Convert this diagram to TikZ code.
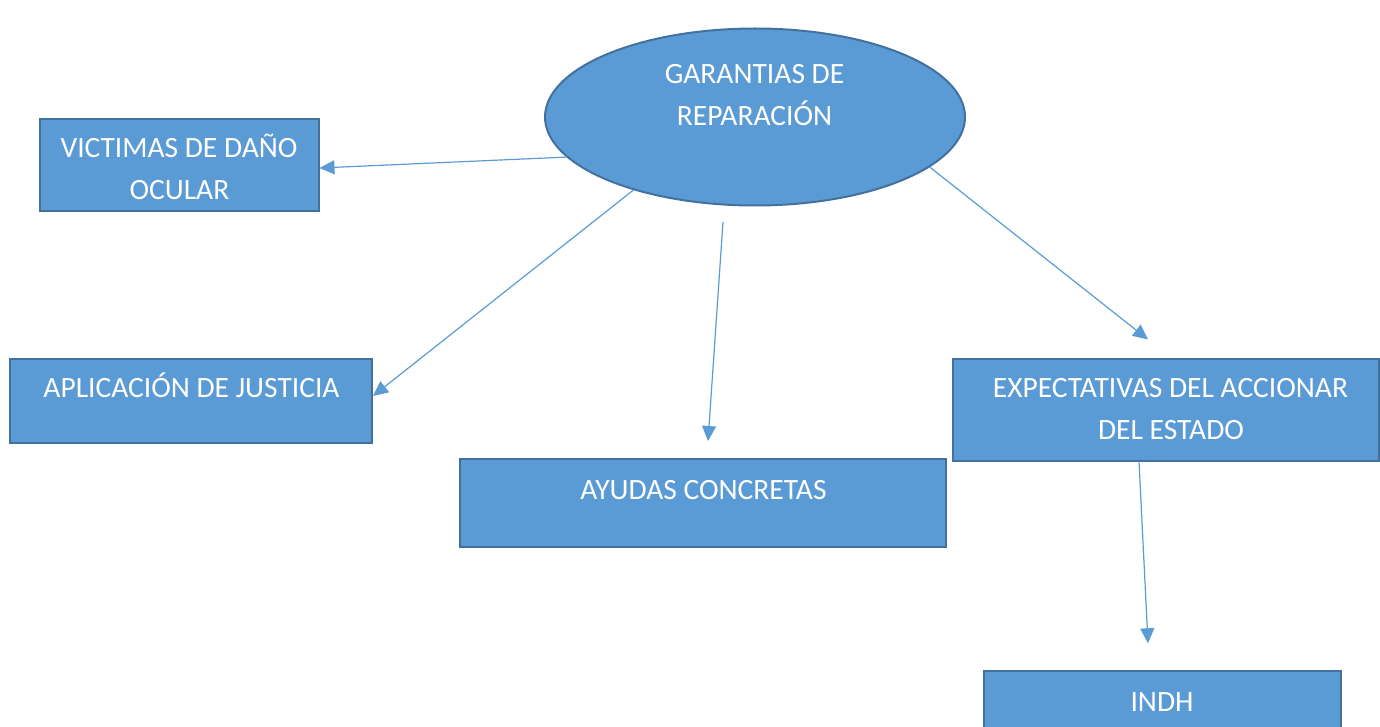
\documentclass[tikz,border=0pt]{standalone}
\usepackage{fontspec}
\setmainfont{Carlito}
\usetikzlibrary{arrows.meta,shapes.geometric}
\definecolor{fillb}{HTML}{5B9BD5}
\definecolor{edgeb}{HTML}{41719C}
\begin{document}
\begin{tikzpicture}[x=1pt,y=-1pt,
  box/.style={rectangle, draw=edgeb, fill=fillb, line width=2pt, inner sep=0pt},
  oval/.style={ellipse, draw=edgeb, fill=fillb, line width=2pt, inner sep=0pt},
  lbl/.style={text=white, font=\fontsize{29.5}{34}\selectfont, anchor=base, inner sep=0pt},
  conn/.style={draw=fillb, line width=1.2pt, -{Triangle[length=15pt,width=14pt]}}]
\useasboundingbox (0,0) rectangle (1380,727);
% shapes
\node[oval, minimum width=420, minimum height=177] (ell) at (755,117) {};
\node[box, minimum width=279, minimum height=92] (vic) at (179,165.5) {};
\node[box, minimum width=362, minimum height=84] (apl) at (191,401) {};
\node[box, minimum width=486, minimum height=88] (ayu) at (703,503) {};
\node[box, minimum width=426, minimum height=102] (exp) at (1166,409.5) {};
\node[box, minimum width=357, minimum height=90] (indh) at (1162.5,716) {};
% labels
\node[lbl] (t1) at (754.5,84) {GARANTIAS DE};
\node[lbl] (t2) at (754.5,126) {REPARACIÓN};
\node[lbl] (t3) at (179,158) {VICTIMAS DE DAÑO};
\node[lbl] (t4) at (179.5,200) {OCULAR};
\node[lbl] (t5) at (191.5,397) {APLICACIÓN DE JUSTICIA};
\node[lbl] (t6) at (703.5,499) {AYUDAS CONCRETAS};
\node[lbl] (t7) at (1170.5,397) {EXPECTATIVAS DEL ACCIONAR};
\node[lbl] (t8) at (1171,439) {DEL ESTADO};
\node[lbl] (t9) at (1162,711) {INDH};
% connectors
\coordinate (s3) at (723,222);
\draw[conn] (ell.192.7) -- ([yshift=-2.5pt]vic.east);
\draw[conn] (ell.211.3) -- ([yshift=5pt]apl.east);
\draw[conn] (s3) -- ([xshift=5pt,yshift=17pt]ayu.north);
\draw[conn] (ell.344.4) -- ([xshift=-18pt,yshift=18pt]exp.north);
\draw[conn] ([xshift=-27pt]exp.south) -- ([xshift=-14.5pt,yshift=26.7pt]indh.north);
\end{tikzpicture}
\end{document}
